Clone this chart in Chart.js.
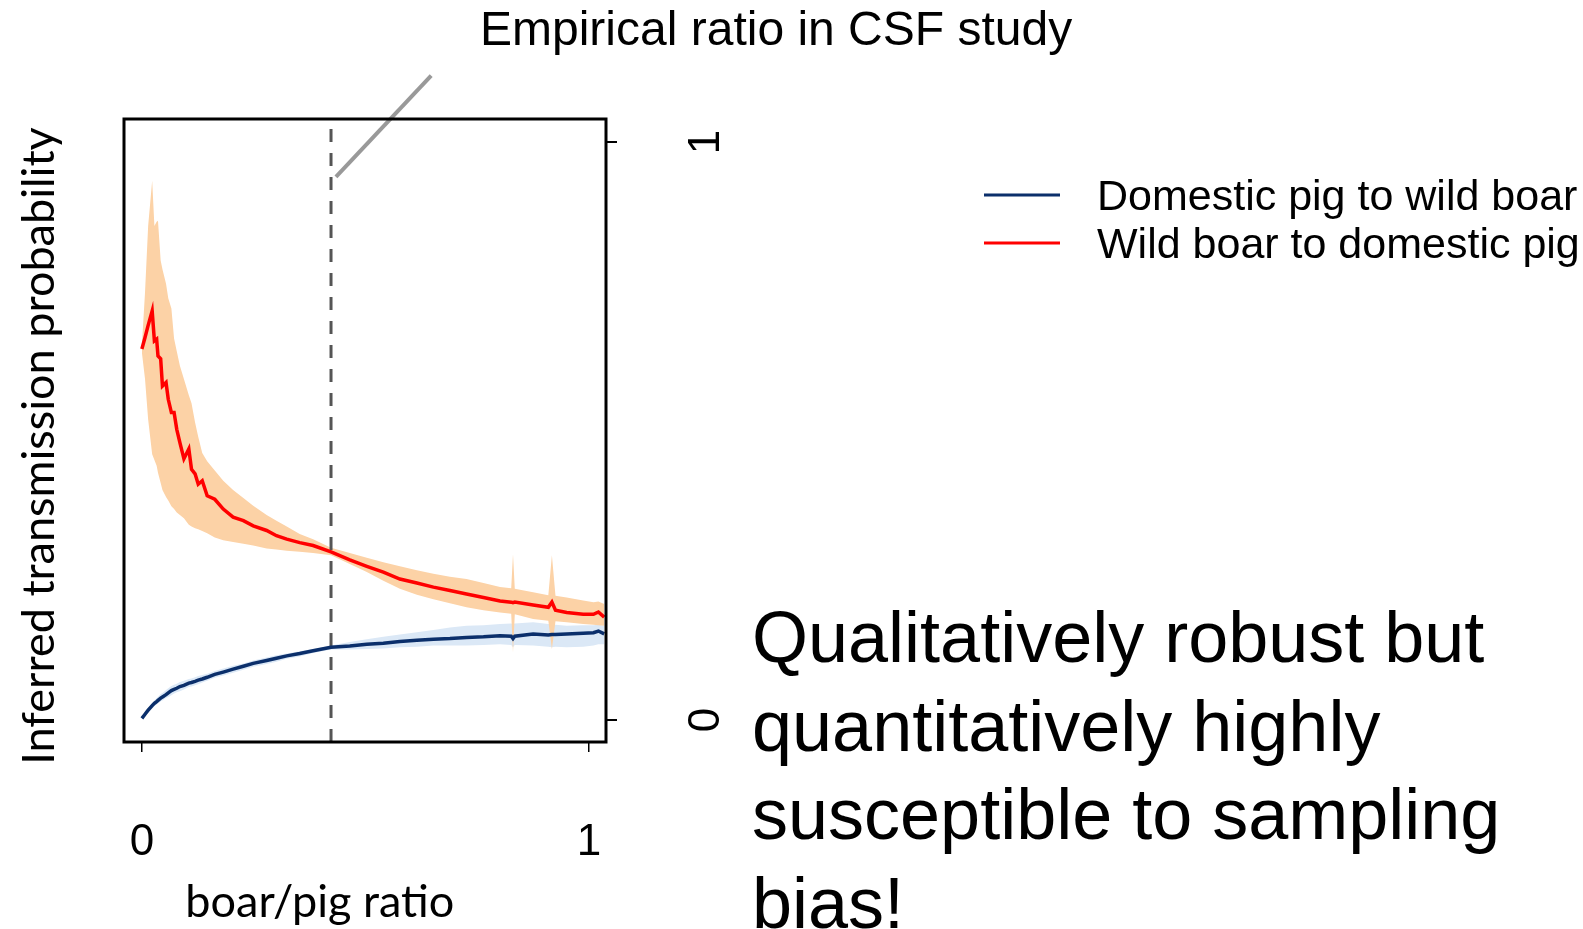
<!DOCTYPE html>
<html>
<head>
<meta charset="utf-8">
<script src="https://cdn.jsdelivr.net/npm/chart.js@4.4.1/dist/chart.umd.min.js"></script>
<style>
  html, body { margin: 0; padding: 0; background: #fff; }
  canvas { display: block; }
</style>
</head>
<body>
<canvas id="ratioChart" width="1583" height="929"></canvas>
<script>
// boar/pig ratio (x) shared by every series
const ratio = [
  0, 0.007, 0.014, 0.023, 0.028, 0.033, 0.036, 0.042, 0.046, 0.054,
  0.059, 0.066, 0.072, 0.078, 0.085, 0.094, 0.105, 0.111, 0.119, 0.126,
  0.135, 0.146, 0.163, 0.182, 0.204, 0.227, 0.249, 0.279, 0.301, 0.324,
  0.353, 0.383, 0.423, 0.465, 0.503, 0.540, 0.577, 0.615, 0.652, 0.689,
  0.726, 0.764, 0.801, 0.826, 0.830, 0.834, 0.875, 0.909, 0.917, 0.925,
  0.950, 0.987, 1.010, 1.021, 1.034
]

// wild boar -> domestic pig: mean and interval
const boarToPig = [
  0.642, 0.662, 0.683, 0.708, 0.656, 0.659, 0.630, 0.625, 0.578, 0.584,
  0.555, 0.532, 0.532, 0.503, 0.480, 0.452, 0.469, 0.434, 0.426, 0.408,
  0.414, 0.388, 0.382, 0.365, 0.351, 0.345, 0.336, 0.328, 0.319, 0.313,
  0.307, 0.302, 0.291, 0.277, 0.266, 0.256, 0.244, 0.237, 0.230, 0.224,
  0.218, 0.212, 0.206, 0.204, 0.203, 0.204, 0.199, 0.195, 0.204, 0.190,
  0.186, 0.183, 0.183, 0.187, 0.178
]
const boarToPigHi = [
  0.648, 0.740, 0.855, 0.933, 0.855, 0.862, 0.864, 0.795, 0.780, 0.755,
  0.730, 0.712, 0.660, 0.638, 0.613, 0.590, 0.562, 0.548, 0.515, 0.490,
  0.462, 0.448, 0.432, 0.414, 0.398, 0.384, 0.371, 0.355, 0.345, 0.335,
  0.322, 0.313, 0.298, 0.289, 0.281, 0.273, 0.266, 0.259, 0.253, 0.248,
  0.244, 0.237, 0.230, 0.228, 0.287, 0.227, 0.221, 0.216, 0.285, 0.215,
  0.212, 0.207, 0.204, 0.205, 0.201
]
const boarToPigLo = [
  0.636, 0.590, 0.520, 0.460, 0.450, 0.440, 0.428, 0.410, 0.398, 0.386,
  0.380, 0.370, 0.365, 0.359, 0.355, 0.349, 0.338, 0.335, 0.332, 0.330,
  0.327, 0.323, 0.316, 0.311, 0.308, 0.305, 0.302, 0.297, 0.295, 0.293,
  0.291, 0.289, 0.285, 0.270, 0.256, 0.241, 0.227, 0.217, 0.209, 0.202,
  0.195, 0.190, 0.186, 0.184, 0.117, 0.183, 0.175, 0.172, 0.123, 0.171,
  0.169, 0.166, 0.165, 0.164, 0.163
]

// domestic pig -> wild boar: mean and interval
const pigToBoar = [
  0.003, 0.010, 0.017, 0.025, 0.029, 0.032, 0.034, 0.038, 0.040, 0.044,
  0.047, 0.051, 0.053, 0.055, 0.058, 0.060, 0.064, 0.065, 0.067, 0.069,
  0.071, 0.074, 0.079, 0.083, 0.088, 0.093, 0.098, 0.103, 0.107, 0.111,
  0.115, 0.120, 0.126, 0.128, 0.131, 0.133, 0.136, 0.138, 0.140, 0.141,
  0.143, 0.144, 0.146, 0.145, 0.141, 0.145, 0.149, 0.147, 0.148, 0.148,
  0.149, 0.150, 0.151, 0.154, 0.149
]
const pigToBoarHi = [
  0.004, 0.013, 0.021, 0.030, 0.034, 0.038, 0.040, 0.045, 0.047, 0.052,
  0.055, 0.059, 0.061, 0.063, 0.066, 0.068, 0.071, 0.072, 0.074, 0.076,
  0.078, 0.080, 0.085, 0.089, 0.094, 0.098, 0.103, 0.108, 0.112, 0.115,
  0.119, 0.123, 0.129, 0.135, 0.140, 0.144, 0.148, 0.152, 0.156, 0.160,
  0.163, 0.164, 0.166, 0.167, 0.166, 0.167, 0.169, 0.166, 0.166, 0.165,
  0.163, 0.164, 0.164, 0.165, 0.163
]
const pigToBoarLo = [
  0.002, 0.007, 0.013, 0.020, 0.024, 0.027, 0.029, 0.032, 0.034, 0.038,
  0.040, 0.043, 0.046, 0.048, 0.050, 0.053, 0.057, 0.058, 0.060, 0.062,
  0.065, 0.068, 0.073, 0.077, 0.082, 0.087, 0.092, 0.097, 0.101, 0.106,
  0.110, 0.116, 0.122, 0.122, 0.123, 0.124, 0.126, 0.127, 0.129, 0.129,
  0.129, 0.130, 0.131, 0.130, 0.126, 0.130, 0.129, 0.127, 0.126, 0.127,
  0.126, 0.127, 0.129, 0.131, 0.131
]

const csfRatio = 0.423
const pointerFrom = [0.434, 0.940]
const pointerTo = [0.647, 1.115]
const xTicks = [0, 1]
const yTicks = [0, 1]

const titleText = 'Empirical ratio in CSF study'
const xTitle = 'boar/pig ratio'
const yTitle = 'Inferred transmission probability'
const legendLabels = ['Domestic pig to wild boar', 'Wild boar to domestic pig']
const noteLines = ['Qualitatively robust but', 'quantitatively highly', 'susceptible to sampling', 'bias!']

const RED = '#ff0000'
const NAVY = '#0b2f6b'
const helv = '"Liberation Sans", Arial, Helvetica, sans-serif'
const cali = 'Lato, "Open Sans", sans-serif'

function pts(ys){
  return ratio.map((x, i) => ({x: x, y: ys[i]}))
}

const decorations = {
  id: 'decorations',
  afterDraw(chart){
    const {ctx, chartArea: a, scales: {x, y}} = chart
    ctx.save()
    ctx.strokeStyle = '#000'
    ctx.lineWidth = 3
    ctx.strokeRect(a.left, a.top, a.right - a.left, a.bottom - a.top)

    ctx.fillStyle = '#000'
    ctx.font = '44px ' + helv
    ctx.textAlign = 'center'
    ctx.textBaseline = 'alphabetic'
    for (let v of xTicks) {
      ctx.fillText(String(v), x.getPixelForValue(v), a.bottom + 113)
    }
    // right axis labels run bottom-to-top
    for (let v of yTicks) {
      ctx.save()
      ctx.translate(a.right + 113, y.getPixelForValue(v))
      ctx.rotate(-Math.PI / 2)
      ctx.fillText(String(v), 0, 0)
      ctx.restore()
    }

    ctx.font = '45px ' + cali
    ctx.fillText(xTitle, x.getPixelForValue(0.398), 917)
    ctx.save()
    ctx.translate(54, 446)
    ctx.rotate(-Math.PI / 2)
    ctx.fillText(yTitle, 0, 0)
    ctx.restore()

    ctx.textAlign = 'left'
    ctx.font = '48px ' + helv
    ctx.fillText(titleText, 480, 45)

    // legend
    const legendColors = [NAVY, RED]
    ctx.font = '43px ' + helv
    ctx.lineWidth = 3
    legendLabels.forEach((lab, i) => {
      const ly = 195 + i * 48
      ctx.strokeStyle = legendColors[i]
      ctx.beginPath()
      ctx.moveTo(984, ly)
      ctx.lineTo(1060, ly)
      ctx.stroke()
      ctx.fillText(lab, 1097, ly + 15)
    })

    ctx.font = '72px ' + helv
    noteLines.forEach((line, i) => {
      ctx.fillText(line, 752, 662 + i * 88.5)
    })
    ctx.restore()
  }
}

new Chart(document.getElementById('ratioChart'), {
  type: 'line',
  data: {
    datasets: [
      {data: pts(pigToBoarHi), borderWidth: 0, pointRadius: 0, fill: '+1', backgroundColor: 'rgb(219,232,246)', order: 7},
      {data: pts(pigToBoarLo), borderWidth: 0, pointRadius: 0, fill: false, order: 7},
      {data: pts(boarToPigHi), borderWidth: 0, pointRadius: 0, fill: '+1', backgroundColor: 'rgb(252,210,166)', order: 6},
      {data: pts(boarToPigLo), borderWidth: 0, pointRadius: 0, fill: false, order: 6},
      {data: [{x: csfRatio, y: -0.038}, {x: csfRatio, y: 1.04}], borderColor: '#555', borderWidth: 3,
        borderDash: [13, 11], pointRadius: 0, order: 4},
      {label: legendLabels[0], data: pts(pigToBoar), borderColor: NAVY, borderWidth: 3.5, pointRadius: 0, order: 2},
      {label: legendLabels[1], data: pts(boarToPig), borderColor: RED, borderWidth: 3.5, pointRadius: 0, order: 1},
      {data: [{x: pointerFrom[0], y: pointerFrom[1]}, {x: pointerTo[0], y: pointerTo[1]}], borderColor: '#999',
        borderWidth: 4, pointRadius: 0, clip: false, order: 0}
    ]
  },
  options: {
    responsive: false,
    animation: false,
    layout: {padding: {left: 124, top: 119, right: 0, bottom: 0}},
    plugins: {legend: {display: false}, tooltip: {enabled: false}},
    elements: {line: {tension: 0}},
    scales: {
      x: {
        type: 'linear', position: 'bottom', min: -0.040, max: 1.038,
        afterBuildTicks: s => { s.ticks = xTicks.map(v => ({value: v})) },
        afterFit: s => { s.height = 187 },
        ticks: {display: false},
        grid: {drawOnChartArea: false, tickLength: 10, color: '#000', lineWidth: 1.5},
        border: {display: false}
      },
      y: {
        type: 'linear', position: 'right', min: -0.038, max: 1.040,
        afterBuildTicks: s => { s.ticks = yTicks.map(v => ({value: v})) },
        afterFit: s => { s.width = 977 },
        ticks: {display: false},
        grid: {drawOnChartArea: false, tickLength: 11, color: '#000', lineWidth: 2},
        border: {display: false}
      }
    }
  },
  plugins: [decorations]
})
</script>
</body>
</html>
